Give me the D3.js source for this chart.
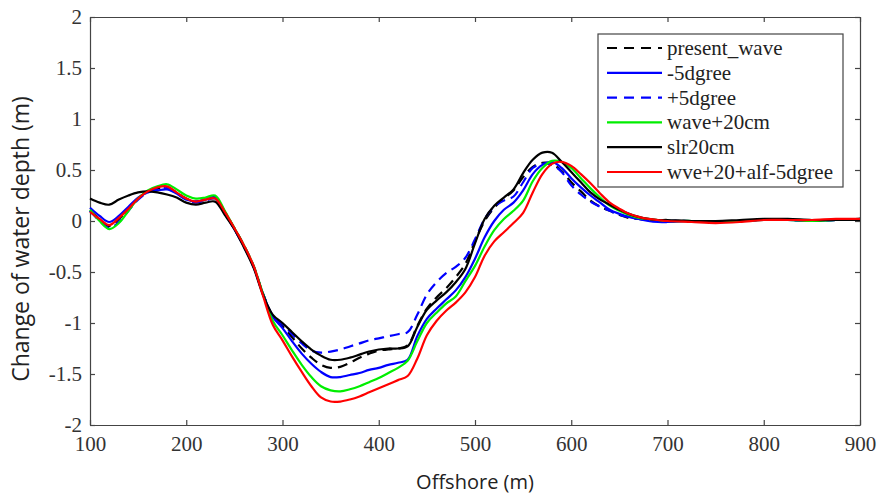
<!DOCTYPE html>
<html>
<head>
<meta charset="utf-8">
<script src="https://cdn.jsdelivr.net/npm/d3@7"></script>
<style>
  body { margin: 0; background: #fff; }
</style>
</head>
<body>
<div id="chart"></div>
<script>
// offshore distance (m), shared by every series
const offshore = [100, 110, 120, 130, 140, 150, 160, 170, 180, 190, 200, 210, 220, 230, 240, 250, 260, 270, 280, 290,
    300, 310, 320, 330, 340, 350, 360, 370, 380, 390, 400, 410, 420, 430, 440, 450, 460, 470, 480, 490,
    500, 510, 520, 530, 540, 550, 560, 570, 580, 590, 600, 610, 620, 630, 640, 650, 660, 670, 680, 690,
    700, 725, 750, 775, 800, 825, 850, 875, 900];

const presentWave = [0.10, 0.02, -0.05, 0.02, 0.12, 0.22, 0.29, 0.32, 0.33, 0.28, 0.22, 0.19, 0.21, 0.23, 0.09, -0.07, -0.24, -0.44, -0.72, -0.93,
    -1.03, -1.14, -1.25, -1.34, -1.41, -1.44, -1.43, -1.39, -1.34, -1.30, -1.27, -1.26, -1.25, -1.22, -1.03, -0.86, -0.75, -0.66, -0.55, -0.42,
    -0.20, 0.00, 0.13, 0.22, 0.30, 0.43, 0.53, 0.57, 0.56, 0.49, 0.38, 0.29, 0.20, 0.14, 0.10, 0.06, 0.03, 0.02, 0.01, 0.00,
    0.00, 0.00, -0.01, 0.00, 0.01, 0.01, 0.00, 0.01, 0.02];

const minus5 = [0.13, 0.05, -0.01, 0.05, 0.14, 0.23, 0.28, 0.30, 0.31, 0.27, 0.21, 0.19, 0.21, 0.23, 0.08, -0.08, -0.25, -0.45, -0.72, -0.94,
    -1.05, -1.18, -1.30, -1.40, -1.48, -1.53, -1.53, -1.51, -1.49, -1.46, -1.44, -1.41, -1.39, -1.36, -1.13, -0.96, -0.86, -0.77, -0.68, -0.55,
    -0.37, -0.16, 0.00, 0.11, 0.18, 0.30, 0.46, 0.55, 0.58, 0.52, 0.42, 0.33, 0.25, 0.18, 0.11, 0.07, 0.04, 0.02, 0.00, -0.01,
    -0.01, 0.00, -0.01, 0.00, 0.01, 0.01, 0.00, 0.01, 0.02];

const plus5 = [0.10, 0.00, -0.07, -0.01, 0.10, 0.21, 0.28, 0.31, 0.32, 0.27, 0.21, 0.18, 0.20, 0.22, 0.08, -0.08, -0.25, -0.45, -0.72, -0.93,
    -1.01, -1.11, -1.20, -1.27, -1.29, -1.28, -1.26, -1.23, -1.20, -1.17, -1.15, -1.13, -1.11, -1.09, -0.92, -0.72, -0.60, -0.51, -0.45, -0.36,
    -0.18, 0.02, 0.14, 0.20, 0.24, 0.38, 0.52, 0.56, 0.55, 0.48, 0.35, 0.26, 0.19, 0.14, 0.10, 0.06, 0.04, 0.02, 0.01, 0.00,
    0.00, 0.00, -0.01, 0.00, 0.01, 0.01, 0.00, 0.01, 0.02];

const wave20 = [0.11, 0.00, -0.08, -0.02, 0.10, 0.22, 0.30, 0.34, 0.36, 0.31, 0.25, 0.22, 0.23, 0.25, 0.10, -0.07, -0.24, -0.44, -0.72, -0.98,
    -1.12, -1.27, -1.41, -1.53, -1.62, -1.66, -1.67, -1.65, -1.62, -1.58, -1.54, -1.49, -1.44, -1.37, -1.18, -1.00, -0.90, -0.81, -0.74, -0.59,
    -0.44, -0.25, -0.09, 0.02, 0.10, 0.20, 0.39, 0.52, 0.59, 0.58, 0.52, 0.42, 0.32, 0.23, 0.15, 0.10, 0.06, 0.03, 0.02, 0.01,
    0.00, 0.00, -0.01, 0.00, 0.01, 0.01, 0.00, 0.01, 0.02];

const slr20 = [0.22, 0.18, 0.16, 0.21, 0.25, 0.28, 0.29, 0.28, 0.26, 0.23, 0.18, 0.16, 0.18, 0.19, 0.06, -0.08, -0.26, -0.46, -0.73, -0.92,
    -1.00, -1.09, -1.18, -1.26, -1.32, -1.36, -1.36, -1.34, -1.31, -1.28, -1.26, -1.25, -1.25, -1.23, -1.04, -0.87, -0.78, -0.70, -0.60, -0.47,
    -0.22, 0.02, 0.15, 0.23, 0.31, 0.47, 0.60, 0.67, 0.67, 0.58, 0.48, 0.38, 0.28, 0.21, 0.16, 0.11, 0.07, 0.04, 0.02, 0.01,
    0.01, 0.00, 0.00, 0.01, 0.02, 0.02, 0.01, 0.01, 0.01];

const wveAlf = [0.09, 0.02, -0.04, 0.03, 0.12, 0.22, 0.29, 0.33, 0.34, 0.28, 0.22, 0.19, 0.21, 0.22, 0.09, -0.07, -0.24, -0.44, -0.74, -1.02,
    -1.17, -1.33, -1.48, -1.62, -1.73, -1.77, -1.77, -1.75, -1.72, -1.68, -1.64, -1.60, -1.56, -1.52, -1.35, -1.12, -0.98, -0.88, -0.80, -0.70,
    -0.55, -0.34, -0.20, -0.11, -0.02, 0.08, 0.28, 0.46, 0.56, 0.58, 0.54, 0.46, 0.37, 0.27, 0.18, 0.12, 0.07, 0.04, 0.02, 0.01,
    0.00, -0.01, -0.02, -0.01, 0.01, 0.01, 0.01, 0.02, 0.02];

const seriesNames = ["present_wave", "-5dgree", "+5dgree", "wave+20cm", "slr20cm", "wve+20+alf-5dgree"];
const seriesValues = [presentWave, minus5, plus5, wave20, slr20, wveAlf];
const seriesColors = ["#000000", "#0000ff", "#0000ff", "#00ee00", "#000000", "#ff0000"];
const seriesDashed = [true, false, true, false, false, false];

const xTicks = [100, 200, 300, 400, 500, 600, 700, 800, 900];
const yTicks = [-2, -1.5, -1, -0.5, 0, 0.5, 1, 1.5, 2];

const width = 879;
const height = 494;
const margin = {left: 90, right: 19, top: 17, bottom: 69};
const serif = '"Liberation Serif"';

const svg = d3.select("#chart")
    .append("svg")
    .attr("width", width)
    .attr("height", height);

const x = d3.scaleLinear()
    .domain([100, 900])
    .range([margin.left, width - margin.right]);

const y = d3.scaleLinear()
    .domain([-2, 2])
    .range([height - margin.bottom, margin.top]);

const axisColor = "#444";

// axes with inward ticks, box round the plot
const xAxis = svg.append("g")
    .attr("transform", `translate(0,${y(-2)})`)
    .call(d3.axisBottom(x).tickValues(xTicks).tickSizeInner(-5).tickSizeOuter(0).tickPadding(11));

const xAxisTop = svg.append("g")
    .attr("transform", `translate(0,${y(2)})`)
    .call(d3.axisTop(x).tickValues(xTicks).tickSizeInner(-5).tickSizeOuter(0).tickFormat(""));

const yAxis = svg.append("g")
    .attr("transform", `translate(${x(100)},0)`)
    .call(d3.axisLeft(y).tickValues(yTicks).tickSizeInner(-5).tickSizeOuter(0).tickPadding(8).tickFormat(d => String(d)));

const yAxisRight = svg.append("g")
    .attr("transform", `translate(${x(900)},0)`)
    .call(d3.axisRight(y).tickValues(yTicks).tickSizeInner(-5).tickSizeOuter(0).tickFormat(""));

[xAxis, xAxisTop, yAxis, yAxisRight].forEach(g => {
    g.attr("font-family", null).attr("font-size", null);
    g.select(".domain").attr("stroke", axisColor).attr("stroke-width", 1.2);
    g.selectAll(".tick line").attr("stroke", axisColor).attr("stroke-width", 1.2);
    g.selectAll(".tick text")
        .attr("fill", "#333")
        .style("font-family", serif)
        .style("font-size", "21px");
});

// series lines
const line = d3.line()
    .x((d, i) => x(offshore[i]))
    .y(d => y(d))
    .curve(d3.curveCatmullRom);

svg.append("g")
    .selectAll("path")
    .data(seriesValues)
    .enter()
    .append("path")
    .attr("d", line)
    .attr("fill", "none")
    .attr("stroke", (d, i) => seriesColors[i])
    .attr("stroke-width", 2.2)
    .attr("stroke-dasharray", (d, i) => seriesDashed[i] ? "10,6" : null);

// legend
const legend = svg.append("g")
    .attr("transform", "translate(598,34)");

legend.append("rect")
    .attr("width", 245)
    .attr("height", 153)
    .attr("fill", "#fff")
    .attr("stroke", axisColor)
    .attr("stroke-width", 1.2);

const legendRow = legend.selectAll(".row")
    .data(seriesNames)
    .enter()
    .append("g")
    .attr("class", "row")
    .attr("transform", (d, i) => `translate(0,${14 + i * 24.8})`);

legendRow.append("line")
    .attr("x1", 9)
    .attr("x2", 64)
    .attr("stroke", (d, i) => seriesColors[i])
    .attr("stroke-width", 2.2)
    .attr("stroke-dasharray", (d, i) => seriesDashed[i] ? "10,7" : null);

legendRow.append("text")
    .attr("x", 69)
    .attr("dy", "0.33em")
    .style("font-family", serif)
    .style("font-size", "21px")
    .attr("fill", "#222")
    .text(d => d);

// axis titles
svg.append("text")
    .attr("x", x(500))
    .attr("y", 489)
    .attr("text-anchor", "middle")
    .style("font-family", '"Open Sans"')
    .style("font-size", "20px")
    .attr("fill", "#222")
    .text("Offshore (m)");

svg.append("text")
    .attr("transform", `translate(29,${y(0) + 18}) rotate(-90)`)
    .attr("text-anchor", "middle")
    .style("font-family", '"Open Sans"')
    .style("font-size", "23px")
    .attr("fill", "#222")
    .text("Change of water depth (m)");
</script>
</body>
</html>
